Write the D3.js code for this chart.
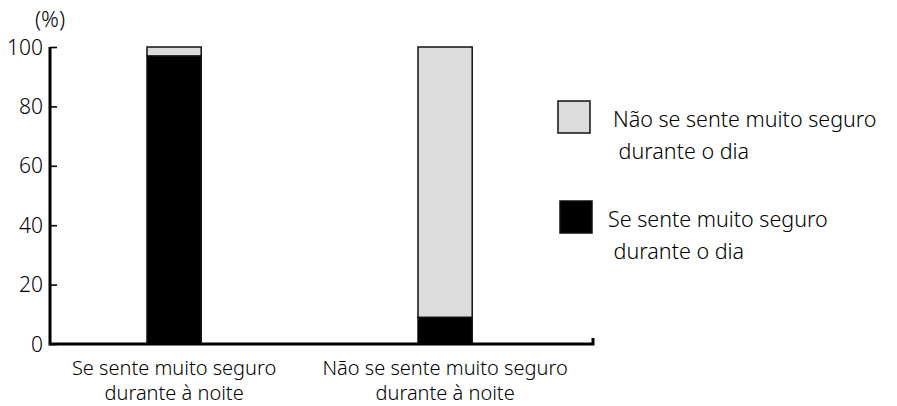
<!DOCTYPE html>
<html>
<head>
<meta charset="utf-8">
<script src="https://cdn.jsdelivr.net/npm/d3@7"></script>
<style>
  body { margin: 0; background: #fff; }
  text { font-family: "Noto Sans", sans-serif; fill: #000; }
</style>
</head>
<body>
<svg id="chart"></svg>
<script>
// categories (two lines each) and stacked series
const categories = ["Se sente muito seguro\ndurante à noite", "Não se sente muito seguro\ndurante à noite"];
const seguroDia = [97, 9];
const naoSeguroDia = [3, 91];
const yTicks = [0, 20, 40, 60, 80, 100];
const legendLabels = [
    ["Não se sente muito seguro", " durante o dia"],
    ["Se sente muito seguro", " durante o dia"]
];

const width = 897, height = 406;
const axisLeft = 50, axisRight = 593;
const yTop = 47, yBottom = 344;

const svg = d3.select('#chart')
    .attr('width', width)
    .attr('height', height);

const xscale = d3.scaleBand()
    .domain(categories)
    .range([65.7, 553.5])
    .paddingInner(0.8)
    .paddingOuter(0.3);

const yscale = d3.scaleLinear()
    .domain([0, 100])
    .range([yBottom, yTop]);

const stackData = categories.map((c, i) => ({ cat: c, seguro: seguroDia[i], nao: naoSeguroDia[i] }));
const series = d3.stack().keys(['seguro', 'nao'])(stackData);
const fills = { seguro: '#000', nao: '#dcdcdc' };

// bars
svg.append('g').selectAll('g')
    .data(series)
    .join('g')
    .attr('fill', d => fills[d.key])
    .selectAll('rect')
    .data(d => d)
    .join('rect')
    .attr('x', d => xscale(d.data.cat))
    .attr('y', d => yscale(d[1]))
    .attr('width', xscale.bandwidth())
    .attr('height', d => yscale(d[0]) - yscale(d[1]))
    .attr('stroke', '#111')
    .attr('stroke-width', 1.5);

// y axis
const yaxis = d3.axisRight(yscale)
    .tickValues(yTicks)
    .tickSize(7)
    .tickFormat(d => '');

const yg = svg.append('g')
    .attr('transform', `translate(${axisLeft}, 0)`)
    .call(yaxis);
yg.select('.domain').remove();
yg.selectAll('.tick line').attr('stroke', '#000').attr('stroke-width', 1.6);

svg.append('line')
    .attr('x1', axisLeft).attr('x2', axisLeft)
    .attr('y1', yscale(100)).attr('y2', yscale(0) + 1.5)
    .attr('stroke', '#000').attr('stroke-width', 3);

svg.append('g').selectAll('text')
    .data(yTicks)
    .join('text')
    .attr('x', 43)
    .attr('y', d => yscale(d))
    .attr('dy', '0.36em')
    .attr('text-anchor', 'end')
    .attr('font-size', 21)
    .attr('font-weight', 300)
    .text(d => d);

svg.append('text')
    .attr('x', 35).attr('y', 27)
    .attr('font-size', 22)
    .attr('font-weight', 300)
    .text('(%)');

// x baseline with small end tick
svg.append('path')
    .attr('d', `M${axisLeft},${yscale(0)}H${axisRight}V${yscale(0) - 6}`)
    .attr('fill', 'none')
    .attr('stroke', '#000')
    .attr('stroke-width', 3);

// category labels
const catLabels = svg.append('g').selectAll('text')
    .data(categories)
    .join('text')
    .attr('text-anchor', 'middle')
    .attr('font-size', 20)
    .attr('font-weight', 300)
    .attr('transform', d => `translate(${xscale(d) + xscale.bandwidth() / 2}, 375)`);
catLabels.selectAll('tspan')
    .data(d => d.split('\n'))
    .join('tspan')
    .attr('x', 0)
    .attr('y', (d, i) => i * 25)
    .text(d => d);

// legend
const legend = svg.append('g').attr('transform', 'translate(558, 101)');
const legendFills = ['#dcdcdc', '#000'];
const items = legend.selectAll('g')
    .data(legendLabels)
    .join('g')
    .attr('transform', (d, i) => `translate(${i * 2}, ${i * 100})`);
items.append('rect')
    .attr('width', 32).attr('height', 32)
    .attr('fill', (d, i) => legendFills[i])
    .attr('stroke', '#111').attr('stroke-width', 1.5);
items.append('text')
    .attr('font-size', 21.5)
    .attr('font-weight', 300)
    .attr('x', (d, i) => i === 0 ? 55 : 48)
    .attr('y', 26)
    .selectAll('tspan')
    .data(d => d)
    .join('tspan')
    .attr('x', (d, i, n) => d3.select(n[i].parentNode).attr('x'))
    .attr('dy', (d, i) => i === 0 ? 0 : 32)
    .style('white-space', 'pre')
    .text(d => d);
</script>
</body>
</html>
